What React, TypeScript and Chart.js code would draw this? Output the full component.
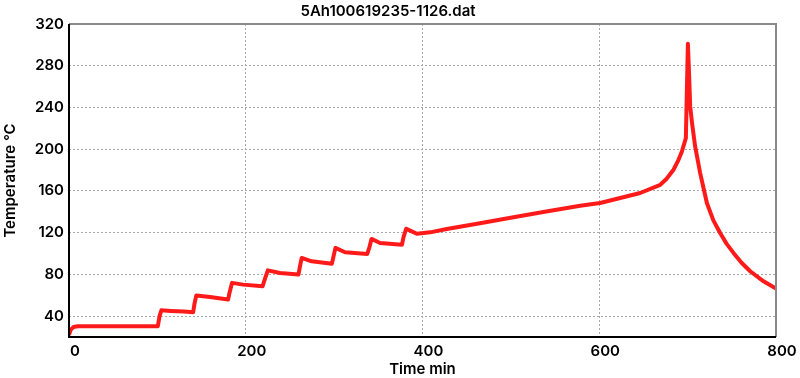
import React, { useEffect, useRef } from "react";
import { Chart, registerables } from "chart.js";

Chart.register(...registerables);

const TITLE = "5Ah100619235-1126.dat";
const X_LABEL = "Time min";
const Y_LABEL = "Temperature °C";

const X_TICKS = [0, 200, 400, 600, 800];
const Y_TICKS = [40, 80, 120, 160, 200, 240, 280, 320];

const TIME_MIN = [
  0, 2, 5, 10, 100.5, 102.5, 104.5, 115, 130, 140.5,
  142, 144, 159.6, 180, 181.5, 184.5, 197, 219, 221.8, 225, 238.8,
  259.6, 261.4, 263.3, 274.6, 297.5, 299.5, 301.5, 312.4, 337.5, 339.9,
  342.3, 352, 376.8, 378.6, 381.6, 386, 393.6, 408.6, 427.5, 465,
  502.9, 540, 578.4, 601, 623.7, 646.3, 669, 676, 684, 689,
  693.5, 698, 700.3, 701.5, 702.9, 705, 708.5, 714.2, 721.8, 729,
  736.8, 744, 751.9, 761, 770.8, 785.9, 800,
];

const TEMPERATURE_C = [
  22, 27, 29.5, 30.3, 30.3, 40, 45.6, 45, 44.4, 43.7,
  52, 59.7, 58.4, 55.9, 62, 71.9, 70.2, 68.6, 76, 83.9, 81.4,
  79.8, 88, 95.8, 92.5, 90.3, 98, 105.4, 101.2, 99.6, 106,
  114, 110.1, 108.5, 116, 123.8, 122, 119, 120.3, 123.5, 129.1,
  134.7, 140.2, 145.8, 148.4, 153.2, 158, 165.9, 171.5, 180.3, 188.5,
  197.8, 210.6, 301, 275, 241, 225, 202.6, 177.1, 148.4, 132,
  119.7, 109.5, 100.6, 91.2, 83, 73.4, 66.5,
];

const FONT = "Inter, 'Liberation Sans', sans-serif";
const FONT_WEIGHT = 600;

export default function App() {
  const ref = useRef<HTMLCanvasElement | null>(null);

  useEffect(() => {
    if (!ref.current) return;
    const points = TIME_MIN.map((t, i) => ({ x: t, y: TEMPERATURE_C[i] }));

    const frame = {
      id: "frame",
      afterDraw(chart: any) {
        const { ctx, chartArea } = chart;
        ctx.save();
        ctx.strokeStyle = "#8a8a8a";
        ctx.lineWidth = 2;
        ctx.beginPath();
        ctx.moveTo(chartArea.left, chartArea.top);
        ctx.lineTo(chartArea.right, chartArea.top);
        ctx.lineTo(chartArea.right, chartArea.bottom);
        ctx.stroke();
        ctx.strokeStyle = "#000";
        ctx.beginPath();
        ctx.moveTo(chartArea.left, chartArea.top);
        ctx.lineTo(chartArea.left, chartArea.bottom);
        ctx.lineTo(chartArea.right, chartArea.bottom);
        ctx.stroke();
        ctx.restore();
      },
    };

    const textFont = { family: FONT, size: 15, weight: FONT_WEIGHT };

    const chart = new Chart(ref.current, {
      type: "line",
      data: {
        datasets: [
          {
            data: points,
            borderColor: "#ff1a1a",
            borderWidth: 4,
            pointRadius: 0,
            tension: 0,
            fill: false,
            borderJoinStyle: "round",
          },
        ],
      },
      options: {
        animation: false,
        responsive: false,
        devicePixelRatio: 1,
        layout: { padding: { left: 0, right: 24, top: 0, bottom: 0 } },
        plugins: {
          legend: { display: false },
          tooltip: { enabled: false },
          title: {
            display: true,
            text: TITLE,
            color: "#000",
            font: textFont,
            padding: { top: 2, bottom: 4 },
          },
        },
        scales: {
          x: {
            type: "linear",
            min: 0,
            max: 800,
            afterBuildTicks: (s: any) => {
              s.ticks = X_TICKS.map((v) => ({ value: v }));
            },
            afterFit: (s: any) => {
              s.height = 41;
            },
            grid: {
              color: "#a8a8a8",
              lineWidth: 1,
              drawTicks: false,
            },
            border: { display: false, dash: [2, 2] },
            ticks: {
              color: "#000",
              font: textFont,
              padding: 5,
              labelOffset: 6,
              maxRotation: 0,
            },
            title: {
              display: true,
              text: X_LABEL,
              color: "#000",
              font: textFont,
              padding: { top: 0, bottom: 0 },
            },
          },
          y: {
            type: "linear",
            min: 20,
            max: 320,
            afterBuildTicks: (s: any) => {
              s.ticks = Y_TICKS.map((v) => ({ value: v }));
            },
            afterFit: (s: any) => {
              s.width = 69;
            },
            grid: {
              color: "#a8a8a8",
              lineWidth: 1,
              drawTicks: false,
            },
            border: { display: false, dash: [2, 2] },
            ticks: {
              color: "#000",
              font: textFont,
              padding: 5,
            },
            title: {
              display: true,
              text: Y_LABEL,
              color: "#000",
              font: textFont,
              padding: { top: 1, bottom: 0 },
            },
          },
        },
      },
      plugins: [frame],
    } as any);

    return () => chart.destroy();
  }, []);

  return (
    <div style={{ position: "absolute", left: 0, top: 0, width: 800, height: 378, background: "#fff" }}>
      <canvas ref={ref} width={800} height={378} style={{ display: "block" }} />
    </div>
  );
}
